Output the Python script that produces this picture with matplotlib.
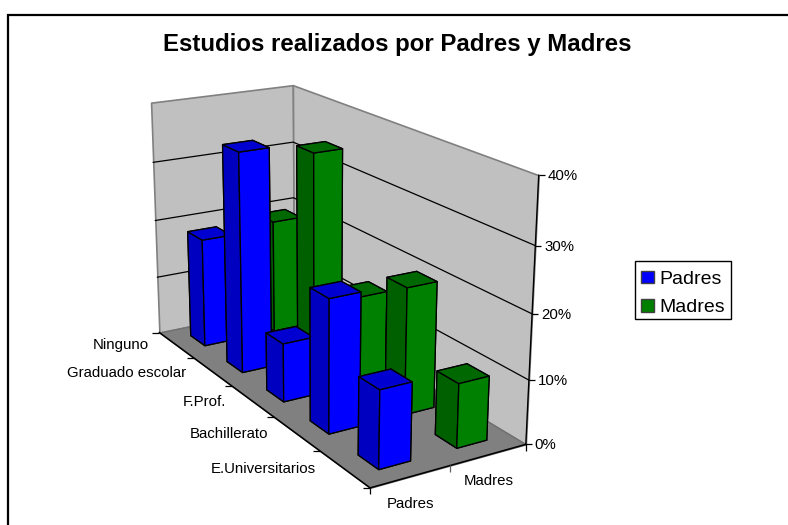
import numpy as np, matplotlib
matplotlib.use('Agg')
import matplotlib.pyplot as plt
from matplotlib.lines import Line2D
from matplotlib.patches import Patch, Rectangle
from mpl_toolkits.mplot3d import proj3d
from mpl_toolkits.mplot3d.art3d import Poly3DCollection

categories = ['Ninguno', 'Graduado escolar', 'F.Prof.', 'Bachillerato', 'E.Universitarios']
series = ['Padres', 'Madres']
padres = [18.5, 36.3, 9.5, 21, 12]
madres = [19.5, 34.4, 14.5, 20.2, 10]
z_ticks = [0, 10, 20, 30, 40]
z_labels = ['0%', '10%', '20%', '30%', '40%']
title = 'Estudios realizados por Padres y Madres'

plt.rcParams['font.family'] = ['Liberation Sans', 'DejaVu Sans']
W, H = 788, 525
fig = plt.figure(figsize=(W/100, H/100), dpi=100)
ax = fig.add_axes([0.07409, -0.01263, 0.66377, 0.99628], projection='3d', computed_zorder=False)
ax.set_xlim(0, 5); ax.set_ylim(0, 2); ax.set_zlim(0, 40)
ax.view_init(18.7438, -30.9737, -0.09677)
ax.set_proj_type('persp', focal_length=0.53994)
ax.set_box_aspect((2.52805, 1, 1.51055))
ax.set_axis_off()
ax.apply_aspect()

def to_px(x, y, z):
    xs, ys, _ = proj3d.proj_transform(x, y, z, ax.get_proj())
    d = ax.transData.transform((float(xs), float(ys)))
    return d[0], H - d[1]

def px_line(x0, y0, x1, y1, color='black', lw=0.9):
    fig.add_artist(Line2D([x0/W, x1/W], [1-y0/H, 1-y1/H], color=color, lw=lw, transform=fig.transFigure, solid_capstyle='butt'))

def px_text(x, y, s, ha='left', size=10.8, **kw):
    fig.text(x/W, 1-y/H, s, ha=ha, va='center', fontsize=size, color='black', **kw)

# frame
fig.add_artist(Rectangle((8/W, -0.1), 1.1, 0.1+1-15/H, transform=fig.transFigure, fill=False, edgecolor='black', lw=1.6))

# walls and floor
top = z_ticks[-1]
ax.add_collection3d(Poly3DCollection([[(0,0,0),(0,2,0),(0,2,top),(0,0,top)]], facecolor='#C0C0C0', edgecolor='#808080', linewidth=1.2, zorder=1))
ax.add_collection3d(Poly3DCollection([[(0,2,0),(5,2,0),(5,2,top),(0,2,top)]], facecolor='#C0C0C0', edgecolor='#808080', linewidth=1.2, zorder=1))
ax.add_collection3d(Poly3DCollection([[(0,0,0),(5,0,0),(5,2,0),(0,2,0)]], facecolor='#808080', edgecolor='#707070', linewidth=1.0, zorder=2))
for z in z_ticks[1:-1]:
    ax.plot([0,0,5],[0,2,2],[z,z,z], color='black', lw=0.9, zorder=3)
ax.plot([5,5],[2,2],[0,top], color='black', lw=1.0, zorder=3)
ax.plot([0,5,5],[0,0,2],[0,0,0], color='black', lw=1.1, zorder=3)

# bars
GW = 0.4
# bar3d face order: bottom, top, -y, +y, -x, +x
face_cols = {
    'Padres': ['#0000C0', '#0000D0', '#0000C0', '#0000C0', '#0000FF', '#0000FF'],
    'Madres': ['#006000', '#006800', '#006000', '#006000', '#008000', '#008000'],
}
zo = 10
for j, (name, vals) in reversed(list(enumerate(zip(series, [padres, madres])))):
    for i, v in enumerate(vals):
        ax.bar3d(i+0.5-GW/2, j+0.5-GW/2, 0, GW, GW, v, color=face_cols[name], shade=False,
                 edgecolor='black', linewidth=0.95, zorder=zo)
        zo += 1

# ticks and labels
for z, lab in zip(z_ticks, z_labels):
    x, y = to_px(5, 2, z)
    px_line(x, y, x+6, y)
    px_text(x+9, y+1, lab)
cat_lab = [(149.3,345),(186,373),(226,401.7),(268,434),(316,468.7)]
for i in range(6):
    x, y = to_px(i, 0, 0)
    px_line(x-7, y, x, y)
for c, (x, y) in zip(categories, cat_lab):
    px_text(x, y, c, ha='right')
for j in range(3):
    x, y = to_px(5, j, 0)
    px_line(x, y, x, y+6.5, color='black' if j != 1 else '#606060')
px_text(410.5, 504, series[0], ha='center')
px_text(489, 481, series[1], ha='center')

px_text(397, 44.5, title, ha='center', size=17.3, fontweight='bold')

# legend: frame drawn separately so the rows sit centred in the box as in the reference
fig.add_artist(Rectangle((635.3/W, 1-319.3/H), 95.4/W, 58.6/H, transform=fig.transFigure,
                         facecolor='white', edgecolor='black', lw=1.0))
handles = [Patch(facecolor='#0000FF', edgecolor='#404040', lw=1.0), Patch(facecolor='#008000', edgecolor='#404040', lw=1.0)]
leg = fig.legend(handles, series, loc='center left', bbox_to_anchor=(635.3/W, 1-293.5/H), fontsize=14,
                 frameon=False, borderaxespad=0, borderpad=0.3,
                 handlelength=0.65, handleheight=0.6, handletextpad=0.3, labelspacing=0.6)
leg.set_zorder(5)
fig.savefig('out.png', dpi=100)
